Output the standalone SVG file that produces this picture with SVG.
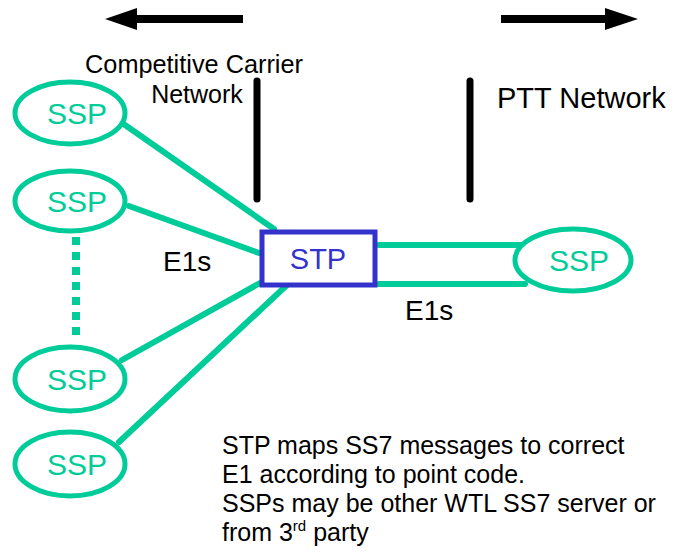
<svg xmlns="http://www.w3.org/2000/svg" width="676" height="556" viewBox="0 0 676 556">
  <style>
    text { font-family: "Liberation Sans", Arial, sans-serif; }
    .ssp ellipse { fill: #ffffff; stroke: #00cc99; stroke-width: 5; }
    .ssp text { fill: #00cc99; font-size: 30px; text-anchor: middle; }
    .link { stroke: #00cc99; stroke-width: 6; stroke-linecap: round; fill: none; }
    .divider { stroke: #000000; stroke-width: 7; stroke-linecap: round; }
    .label { fill: #000000; }
  </style>

  <!-- direction arrows -->
  <g id="arrow-left">
    <line x1="243" y1="19" x2="134" y2="19" stroke="#000" stroke-width="8"/>
    <polygon points="105,19 137,8 137,30" fill="#000"/>
  </g>
  <g id="arrow-right">
    <line x1="501" y1="19" x2="608" y2="19" stroke="#000" stroke-width="8"/>
    <polygon points="638,19 605,8 605,30" fill="#000"/>
  </g>

  <!-- network boundaries -->
  <line class="divider" x1="257" y1="81" x2="257" y2="199"/>
  <line class="divider" x1="470" y1="81" x2="470" y2="199"/>

  <text class="label" x="194" y="73" font-size="25.3" text-anchor="middle">Competitive Carrier</text>
  <text class="label" x="197" y="103" font-size="25" text-anchor="middle">Network</text>
  <text class="label" x="497" y="108" font-size="29">PTT Network</text>

  <!-- links -->
  <g id="connectors">
    <line class="link" x1="125" y1="125" x2="274" y2="229"/>
    <line class="link" x1="129" y1="206" x2="259" y2="253"/>
    <line class="link" x1="122" y1="360" x2="260" y2="283"/>
    <line class="link" x1="119" y1="442" x2="288" y2="284"/>
    <line class="link" x1="379" y1="245" x2="524" y2="245"/>
    <line class="link" x1="379" y1="284" x2="525" y2="284"/>
    <line x1="76" y1="237" x2="76" y2="341" stroke="#00cc99" stroke-width="8" stroke-dasharray="8 7"/>
  </g>

  <text class="label" x="163" y="271" font-size="28">E1s</text>
  <text class="label" x="405" y="320" font-size="28">E1s</text>

  <!-- signalling points -->
  <g id="ssp-1" class="ssp">
    <ellipse cx="70" cy="113" rx="55" ry="31"/>
    <text x="77" y="124">SSP</text>
  </g>
  <g id="ssp-2" class="ssp">
    <ellipse cx="70" cy="201" rx="55" ry="30"/>
    <text x="77" y="212">SSP</text>
  </g>
  <g id="ssp-3" class="ssp">
    <ellipse cx="70" cy="379" rx="55" ry="32"/>
    <text x="77" y="390">SSP</text>
  </g>
  <g id="ssp-4" class="ssp">
    <ellipse cx="70" cy="464" rx="55" ry="32"/>
    <text x="77" y="475">SSP</text>
  </g>
  <g id="ssp-ptt" class="ssp">
    <ellipse cx="573" cy="260" rx="58" ry="31"/>
    <text x="579" y="271">SSP</text>
  </g>

  <g id="stp">
    <rect x="262" y="232" width="113" height="53" fill="#ffffff" stroke="#3333cc" stroke-width="5"/>
    <text x="318" y="269" font-size="29" fill="#3333cc" text-anchor="middle">STP</text>
  </g>

  <!-- notes -->
  <g id="notes" class="label" font-size="25">
    <text x="222" y="454">STP maps SS7 messages to correct</text>
    <text x="222" y="483">E1 according to point code.</text>
    <text x="222" y="512">SSPs may be other WTL SS7 server or</text>
    <text x="222" y="541">from 3<tspan font-size="15" dy="-10">rd</tspan><tspan dy="10"> party</tspan></text>
  </g>
</svg>
